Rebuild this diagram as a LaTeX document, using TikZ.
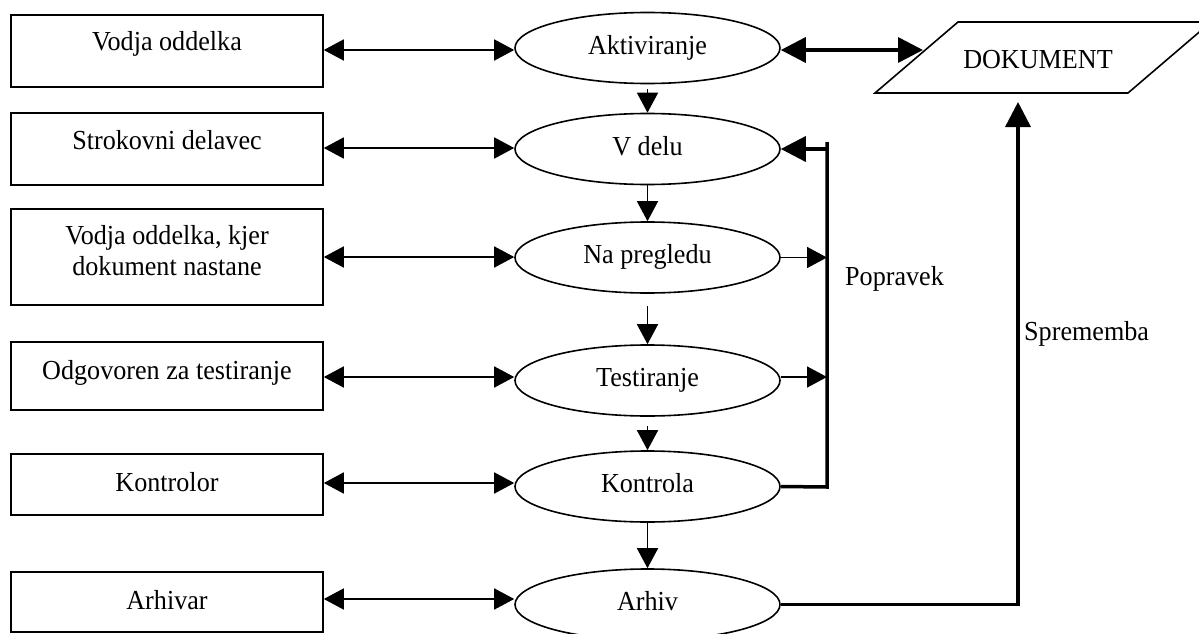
\documentclass[tikz,border=0pt]{standalone}
\usepackage{fontspec}
\setmainfont{Liberation Serif}[FakeStretch=0.95]
\usetikzlibrary{arrows.meta,shapes.geometric}
\begin{document}
\begin{tikzpicture}[x=1pt,y=-1pt,
  font=\fontsize{27.5pt}{31pt}\selectfont,
  role/.style={draw, line width=1.6pt, rectangle, minimum width=312pt, inner sep=0pt},
  stage/.style={draw, line width=1.6pt, ellipse, minimum width=265pt, minimum height=71pt,
                inner sep=0pt, text height=18.8pt, text depth=6pt},
  lbl/.style={inner sep=0pt, anchor=base, align=center},
  link/.style={line width=1.6pt, {Triangle[length=20pt,width=21pt]}-{Triangle[length=20pt,width=21pt]}},
  flow/.style={line width=1.6pt, -{Triangle[length=20pt,width=21pt]}},
  bold/.style={line width=3.5pt, -{Triangle[length=25pt,width=25pt]}},
  boldlink/.style={line width=3.5pt, {Triangle[length=25pt,width=25pt]}-{Triangle[length=25pt,width=25pt]}},
  bus/.style={line width=3.5pt}
]
\path[use as bounding box, clip] (0,0) rectangle (1199,634);

% responsible roles
\node[role, minimum height=72pt] (r1) at (167,51) {};
\node[role, minimum height=72pt] (r2) at (167,149) {};
\node[role, minimum height=96pt] (r3) at (167,257) {};
\node[role, minimum height=68pt] (r4) at (167,376) {};
\node[role, minimum height=61pt] (r5) at (167,484.5) {};
\node[role, minimum height=60pt] (r6) at (167,602) {};

\node[lbl] (r1t) at (167,51) {Vodja oddelka};
\node[lbl] (r2t) at (167,149) {Strokovni delavec};
\node[lbl, anchor=center] (r3t) at (167,251) {Vodja oddelka, kjer\\dokument nastane};
\node[lbl] (r4t) at (167,379.5) {Odgovoren za testiranje};
\node[lbl] (r5t) at (167,491.5) {Kontrolor};
\node[lbl] (r6t) at (167,609.5) {Arhivar};

% document states
\node[stage] (s1) at (647.5,48) {Aktiviranje};
\node[stage] (s2) at (647.5,149) {V delu};
\node[stage] (s3) at (647.5,257.5) {Na pregledu};
\node[stage] (s4) at (647.5,380.5) {Testiranje};
\node[stage] (s5) at (647.5,486.5) {Kontrola};
\node[stage] (s6) at (647.5,604.5) {Arhiv};

% role <-> state
\draw[link] ([yshift=1pt]r1.east) -- ([yshift=1pt]r1.east -| s1.west);
\draw[link] ([yshift=1pt]r2.east) -- ([yshift=1pt]r2.east -| s2.west);
\draw[link] (r3.east) -- (r3.east -| s3.west);
\draw[link] ([yshift=-1pt]r4.east) -- ([yshift=-1pt]r4.east -| s4.west);
\draw[link] ([yshift=1.5pt]r5.east) -- ([yshift=1.5pt]r5.east -| s5.west);
\draw[link] ([yshift=3pt]r6.east) -- ([yshift=3pt]r6.east -| s6.west);

% state sequence
\draw[flow] ([yshift=-5pt]s1.south) -- (s2.north);
\draw[flow] (s2.south) -- (s3.north);
\draw[flow] ([yshift=-12pt]s3.south) -- (s4.north);
\draw[flow] ([yshift=-9pt]s4.south) -- (s5.north);
\draw[flow] (s5.south) -- (s6.north);

% the document
\coordinate (d1) at (875,93);
\coordinate (d2) at (958,22);
\coordinate (d3) at (1211,22);
\coordinate (d4) at (1128,93);
\draw[line width=1.6pt] (d1) -- (d2) -- (d3) -- (d4) -- cycle;
\node[lbl] (doc) at (1038,68) {DOKUMENT};
\coordinate (docin) at (923,50);
\draw[boldlink] (s1.east |- docin) -- (docin);

% correction loop
\coordinate (pv-top) at (827,142);
\coordinate (pv-bot) at (827,487);
\draw[bus] (s5.east) -- (pv-bot) -- (pv-top);
\draw[bold] (pv-top |- s2.east) -- (s2.east);
\draw[flow] (s3.east) -- (s3.east -| pv-top);
\draw[flow] ([yshift=3.5pt]s4.east) -- ([yshift=3.5pt]s4.east -| pv-top);
\node[lbl, anchor=base west] (pvl) at (845,285) {Popravek};

% change loop
\coordinate (sp-tip) at (1018,102);
\draw[bold] (s6.east) -- (s6.east -| sp-tip) -- (sp-tip);
\node[lbl, anchor=base west] (spl) at (1024,340) {Sprememba};
\end{tikzpicture}
\end{document}
